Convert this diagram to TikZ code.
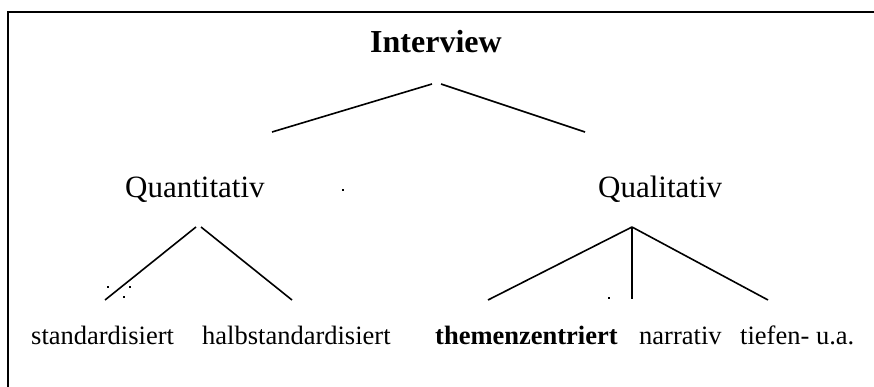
\documentclass[tikz,border=0pt]{standalone}
\usepackage{fontspec}
\setmainfont{Liberation Serif}
\begin{document}
\begin{tikzpicture}[x=1pt,y=-1pt,
  br/.style={line width=1.6pt},
  top/.style={font=\fontsize{32}{38}\selectfont\bfseries, anchor=base west, inner sep=0pt},
  mid/.style={font=\fontsize{31}{37}\selectfont, anchor=base west, inner sep=0pt},
  leaf/.style={font=\fontsize{26.5}{32}\selectfont, anchor=base west, inner sep=0pt},
  dotm/.style={fill=black, inner sep=0pt, minimum size=2pt}]
\useasboundingbox (0,0) rectangle (874,387);
\begin{scope}
\clip (0,0) rectangle (874,387);
\draw[line width=2pt] (8,12) rectangle (900,420);
\end{scope}
% nodes
\node[top] (iv) at (370,53) {Interview};
\node[mid] (qn) at (125,197) {Quantitativ};
\node[mid] (ql) at (598,197) {Qualitativ};
\node[leaf] (st) at (31,344) {standardisiert};
\node[leaf] (hs) at (202,344) {halbstandardisiert};
\node[leaf,font=\fontsize{26.5}{32}\selectfont\bfseries] (tz) at (435,344) {themenzentriert};
\node[leaf] (na) at (639,344) {narrativ};
\node[leaf] (tf) at (740,344) {tiefen- u.a.};
% connector endpoints
\coordinate (ivL) at (432,84);
\coordinate (ivR) at (441,84);
\coordinate (qnT) at (272,132);
\coordinate (qlT) at (585,132);
\coordinate (qnL) at (196,227);
\coordinate (qnR) at (201,227);
\coordinate (stT) at (105,300);
\coordinate (hsT) at (292,300);
\coordinate (qlA) at (632,227);
\coordinate (tzT) at (488,300);
\coordinate (naT) at (632,299);
\coordinate (tfT) at (768,300);
\draw[br] (ivL) -- (qnT);
\draw[br] (ivR) -- (qlT);
\draw[br] (qnL) -- (stT);
\draw[br] (qnR) -- (hsT);
\draw[br] (qlA) -- (tzT);
\draw[br] (qlA) -- (naT);
\draw[br] (qlA) -- (tfT);
% stray dots
\node[dotm] (d1) at (108,287) {};
\node[dotm] (d2) at (130,287) {};
\node[dotm] (d3) at (124,297) {};
\node[dotm] (d4) at (343,190) {};
\node[dotm] (d5) at (609,298) {};
\end{tikzpicture}
\end{document}
